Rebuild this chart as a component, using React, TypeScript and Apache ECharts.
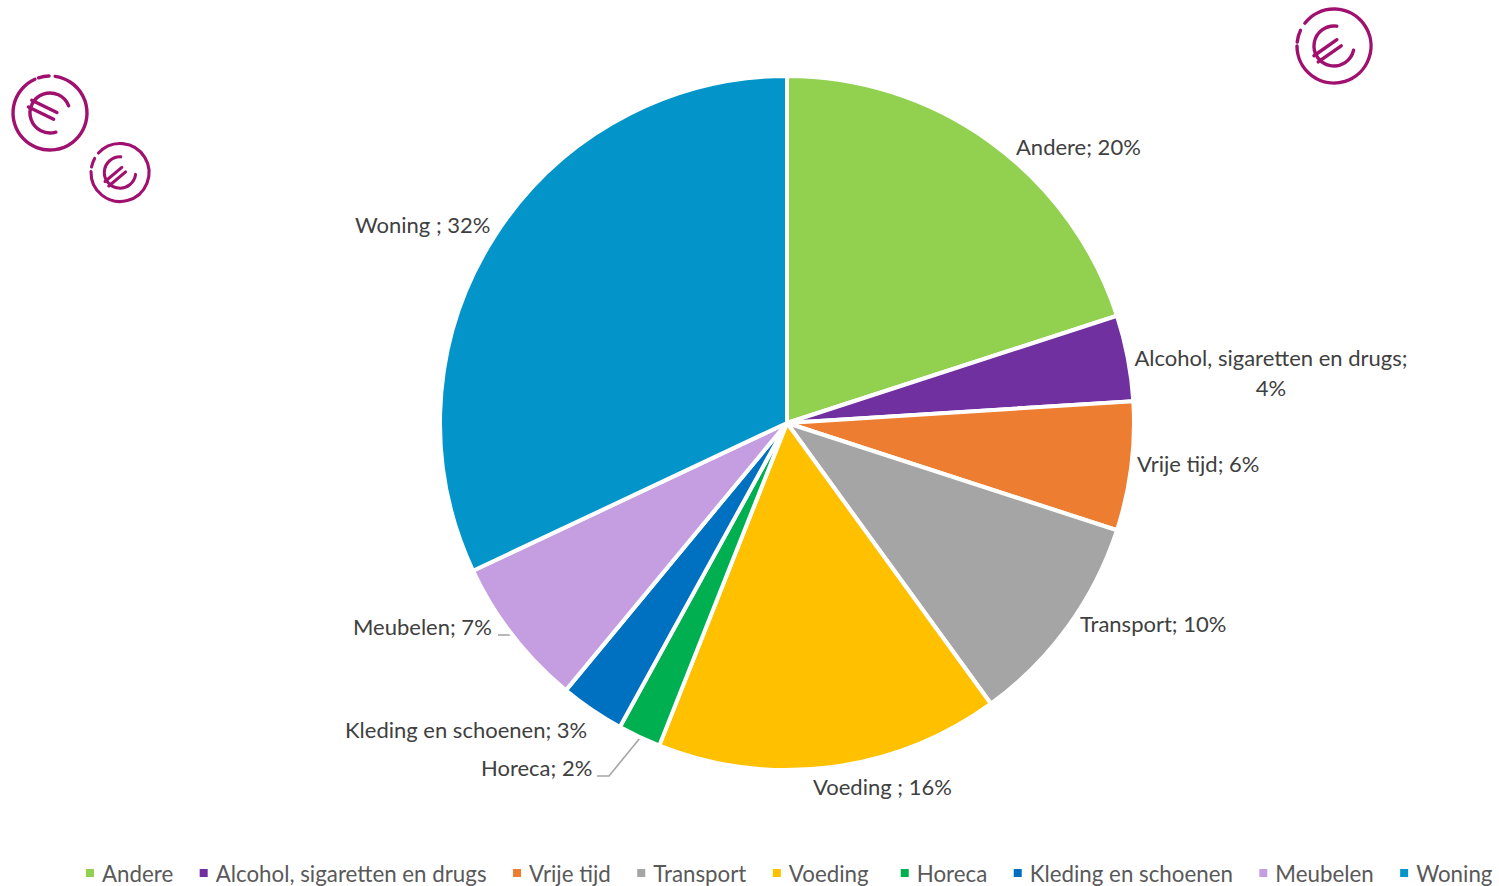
import React, { useEffect, useRef } from "react";
import * as echarts from "echarts";

const categories = ["Andere", "Alcohol, sigaretten en drugs", "Vrije tijd", "Transport", "Voeding ", "Horeca", "Kleding en schoenen", "Meubelen", "Woning "];
const shares = [20, 4, 6, 10, 16, 2, 3, 7, 32];
const sliceColors = ["#92D050", "#7030A0", "#ED7D31", "#A5A5A5", "#FFC000", "#00B050", "#0070C0", "#C49EE0", "#0394C9"];
const labelSeparators = ["; ", ";\n", "; ", "; ", "; ", "; ", "; ", "; ", "; "];
const labelAnchors: [number, number, string][] = [
  [1016, 146, "left"],
  [1271, 372, "center"],
  [1137, 463, "left"],
  [1080, 623, "left"],
  [813, 786, "left"],
  [481, 767, "left"],
  [345, 729, "left"],
  [353, 626, "left"],
  [355, 224, "left"],
];

const INK = "#A0106E";
const deg = (d: number) => (d * Math.PI) / 180;

function ringArc(cx: number, cy: number, r: number, a: number, b: number, w: number) {
  return {
    type: "arc",
    shape: { cx, cy, r, startAngle: -deg(a), endAngle: -deg(b), clockwise: false },
    style: { stroke: INK, lineWidth: w, fill: "none", lineCap: "round" },
    silent: true,
  };
}

function euroIcon(cx: number, cy: number, r: number, rot: number, arcs: [number, number][]) {
  const k = r / 37;
  const w = 3.4 * Math.max(k, 0.9);
  const line = (x1: number, y1: number, x2: number, y2: number) => ({
    type: "line",
    shape: { x1: x1 * k, y1: y1 * k, x2: x2 * k, y2: y2 * k },
    style: { stroke: INK, lineWidth: w, lineCap: "round" },
    silent: true,
  });
  return [
    ...arcs.map(([a, b]) => ringArc(cx, cy, r, a, b, w)),
    {
      type: "group",
      x: cx,
      y: cy,
      rotation: deg(rot),
      silent: true,
      children: [
        ringArc(0, 0, 20 * k, 47, 313, w),
        line(-22, -3.5, 6, -3.5),
        line(-22, 4, 6, 4),
      ],
    },
  ];
}

export default function App() {
  const ref = useRef<HTMLDivElement>(null);
  useEffect(() => {
    const chart = echarts.init(ref.current!, undefined, { renderer: "svg" });
    const leader = (points: number[][]) => ({
      type: "polyline",
      shape: { points },
      style: { stroke: "#A6A6A6", lineWidth: 1.6, fill: "none" },
      silent: true,
    });
    chart.setOption({
      animation: false,
      backgroundColor: "#ffffff",
      textStyle: { fontFamily: "Lato" },
      legend: {
        show: true,
        left: 84,
        top: 862,
        width: 1800,
        padding: 0,
        itemGap: 24.5,
        itemWidth: 10,
        itemHeight: 10,
        icon: "rect",
        data: categories,
        textStyle: { fontFamily: "Lato", fontSize: 22.3, color: "#595959", padding: [0, 0, 0, 2] },
      },
      series: [
        {
          type: "pie",
          center: [787, 423],
          radius: [0, 347],
          startAngle: 90,
          clockwise: true,
          avoidLabelOverlap: false,
          itemStyle: { borderColor: "#ffffff", borderWidth: 4 },
          emphasis: { disabled: true },
          color: sliceColors,
          data: categories.map((name, i) => ({ name, value: shares[i] })),
          label: {
            show: true,
            position: "outside",
            overflow: "none",
            fontFamily: "Lato",
            fontSize: 22,
            color: "#404040",
            lineHeight: 30,
            formatter: (p: any) => `${categories[p.dataIndex]}${labelSeparators[p.dataIndex]}${shares[p.dataIndex]}%`,
          },
          labelLine: { show: false },
          labelLayout: (p: any) => {
            const [x, y, align] = labelAnchors[p.dataIndex];
            return { x, y, align, verticalAlign: "middle" };
          },
        },
      ],
      graphic: {
        elements: [
          leader([[498, 635], [513, 635]]),
          leader([[597, 776], [609, 776], [640, 738]]),
          ...euroIcon(50, 113, 37, -26, [[114, 442], [91.5, 108]]),
          ...euroIcon(120, 172.5, 29, 40, [[178, 498], [151, 169]]),
          ...euroIcon(1334, 46, 37, 35, [[180, 502], [155, 174]]),
        ],
      },
    });
    return () => chart.dispose();
  }, []);
  return <div ref={ref} style={{ position: "fixed", left: 0, top: 0, width: 1499, height: 886 }} />;
}
